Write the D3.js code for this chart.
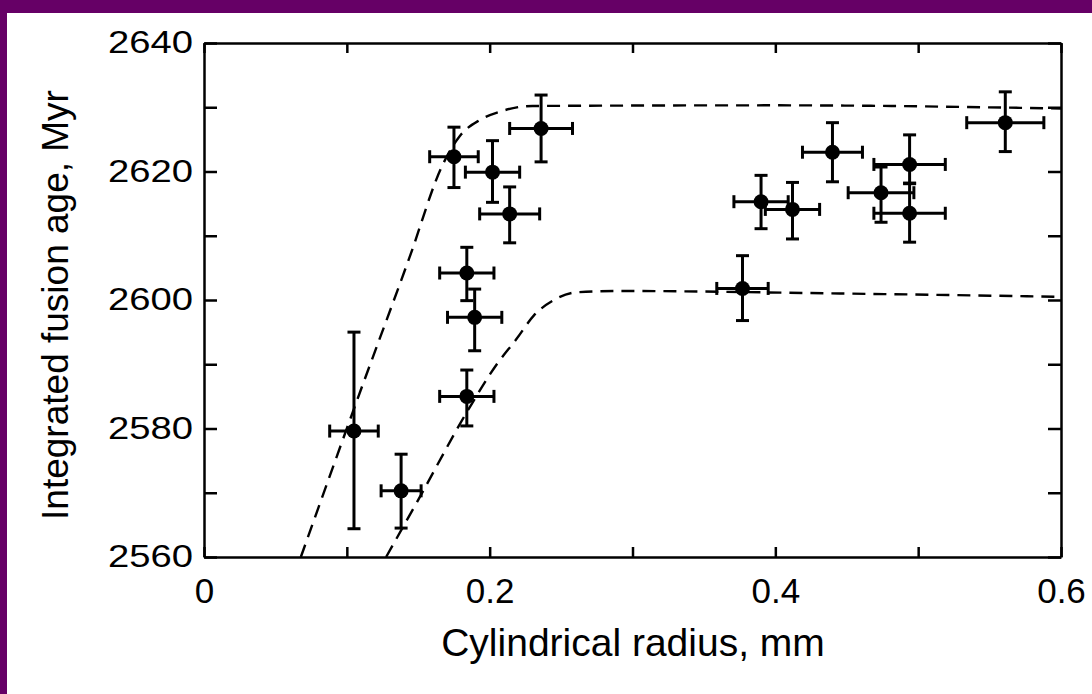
<!DOCTYPE html>
<html>
	<head>
		<meta charset="utf-8">
		<style type="text/css">
			body { margin: 0; background: #660066; }
			text { font-family: "Liberation Sans", Arial, sans-serif; fill: black; }
		</style>
		<title>Integrated fusion age vs cylindrical radius</title>
	</head>
	<body>
		<div id="chart"></div>
		<script src="https://cdn.jsdelivr.net/npm/d3@7"></script>
		<script>

// data points
var radius   = [0.105, 0.138, 0.175, 0.184, 0.1895, 0.184, 0.202, 0.214, 0.236, 0.377, 0.390, 0.412, 0.440, 0.474, 0.494, 0.494, 0.561];
var age      = [2579.6, 2570.3, 2622.3, 2604.2, 2597.3, 2585.0, 2619.9, 2613.4, 2626.7, 2601.8, 2615.3, 2614.1, 2623.0, 2616.7, 2621.1, 2613.5, 2627.6];
var ageLow   = [2564.4, 2564.5, 2617.5, 2599.9, 2592.1, 2580.4, 2615.2, 2608.9, 2621.5, 2596.8, 2611.1, 2609.5, 2618.4, 2612.1, 2618.1, 2609.0, 2623.1];
var ageHigh  = [2595.0, 2576.0, 2626.9, 2608.2, 2601.7, 2589.1, 2624.8, 2617.6, 2631.9, 2606.9, 2619.4, 2618.3, 2627.6, 2620.7, 2625.7, 2618.2, 2632.4];
var radiusErr = [0.017, 0.014, 0.017, 0.019, 0.019, 0.019, 0.019, 0.021, 0.022, 0.018, 0.019, 0.019, 0.021, 0.023, 0.025, 0.025, 0.027];

// dashed model curves
var upperX = [0.0678, 0.107, 0.144, 0.167, 0.179, 0.193, 0.207, 0.230, 0.40, 0.60];
var upperY = [2560, 2584.3, 2606.7, 2621, 2625.5, 2628, 2629.3, 2630.2, 2630.3, 2629.8];
var lowerX = [0.1275, 0.149, 0.186, 0.205, 0.219, 0.231, 0.245, 0.261, 0.29, 0.45, 0.60];
var lowerY = [2560, 2568.5, 2583.3, 2590, 2594, 2597.6, 2600, 2601.2, 2601.4, 2601, 2600.5];

// axis ticks
var xTickLabels = [0, 0.2, 0.4, 0.6];
var xTicksAll = [0, 0.1, 0.2, 0.3, 0.4, 0.5, 0.6];
var yTickLabels = [2560, 2580, 2600, 2620, 2640];
var yTicksAll = [2560, 2570, 2580, 2590, 2600, 2610, 2620, 2630, 2640];

var W = 1092, H = 694;
var margin = {top: 43, right: 31, bottom: 137, left: 204},
    width = W - margin.left - margin.right,
    height = H - margin.top - margin.bottom;

var root = d3.select('#chart').append('svg')
    .attr('width', W)
    .attr('height', H)
    .style('display', 'block');

// purple frame with white page
root.append('rect').attr('width', W).attr('height', H).attr('fill', '#660066');
root.append('rect').attr('x', 7).attr('y', 13).attr('width', W - 7).attr('height', H - 13).attr('fill', 'white');

var svg = root.append('g')
    .attr('transform', `translate(${margin.left},${margin.top})`);

var x = d3.scaleLinear().domain([0, 0.6]).range([0, width]);
var y = d3.scaleLinear().domain([2560, 2640]).range([height, 0]);

// axes, ticks pointing inward
var xAxis = d3.axisBottom(x).tickValues(xTicksAll).tickSizeInner(-10).tickSizeOuter(0).tickPadding(21)
    .tickFormat(d => xTickLabels.some(v => Math.abs(v - d) < 1e-9) ? d3.format('')(d) : '');
var gx = svg.append('g').attr('transform', `translate(0,${height})`).call(xAxis);
gx.selectAll('text').style('font-size', '35px');

var yAxis = d3.axisLeft(y).tickValues(yTicksAll).tickSizeInner(-13).tickSizeOuter(0).tickPadding(11)
    .tickFormat(d => yTickLabels.indexOf(d) >= 0 ? d : '');
var gy = svg.append('g').call(yAxis);
gy.selectAll('text').style('font-size', '31px')
    .filter(function() { return this.textContent !== ''; })
    .attr('textLength', 85).attr('lengthAdjust', 'spacingAndGlyphs');

svg.append('g').call(d3.axisTop(x).tickValues(xTicksAll).tickSizeInner(-10).tickSizeOuter(0).tickFormat(''));
svg.append('g').attr('transform', `translate(${width},0)`)
    .call(d3.axisRight(y).tickValues(yTicksAll).tickSizeInner(-13).tickSizeOuter(0).tickFormat(''));

svg.selectAll('.domain').attr('stroke', 'black').attr('stroke-width', 2.5);
svg.selectAll('.tick line').attr('stroke', 'black').attr('stroke-width', 2.5);

// axis titles
svg.append('text')
    .attr('x', 633 - margin.left)
    .attr('y', 656 - margin.top)
    .attr('text-anchor', 'middle')
    .style('font-size', '39px')
    .text('Cylindrical radius, mm');

svg.append('text')
    .attr('transform', `translate(${68 - margin.left},${305 - margin.top}) rotate(-90)`)
    .attr('text-anchor', 'middle')
    .style('font-size', '37px')
    .text('Integrated fusion age, Myr');

// dashed curves
var line = d3.line()
    .x(d => x(d[0]))
    .y(d => y(d[1]))
    .curve(d3.curveMonotoneX);

[[upperX, upperY], [lowerX, lowerY]].forEach(function(c) {
    svg.append('path')
        .datum(c[0].map((v, i) => [v, c[1][i]]))
        .attr('d', line)
        .attr('fill', 'none')
        .attr('stroke', 'black')
        .attr('stroke-width', 2.4)
        .attr('stroke-dasharray', '13,8');
});

// data points with error bars
var pts = radius.map((r, i) => ({r: r, a: age[i], lo: ageLow[i], hi: ageHigh[i], e: radiusErr[i]}));
var cap = 6.5;
var g = svg.selectAll('.pt').data(pts).enter().append('g').attr('class', 'pt')
    .attr('stroke', 'black').attr('stroke-width', 3);

g.append('line').attr('x1', d => x(d.r)).attr('x2', d => x(d.r)).attr('y1', d => y(d.lo)).attr('y2', d => y(d.hi));
g.append('line').attr('x1', d => x(d.r) - cap).attr('x2', d => x(d.r) + cap).attr('y1', d => y(d.lo)).attr('y2', d => y(d.lo));
g.append('line').attr('x1', d => x(d.r) - cap).attr('x2', d => x(d.r) + cap).attr('y1', d => y(d.hi)).attr('y2', d => y(d.hi));
g.append('line').attr('x1', d => x(d.r - d.e)).attr('x2', d => x(d.r + d.e)).attr('y1', d => y(d.a)).attr('y2', d => y(d.a));
g.append('line').attr('x1', d => x(d.r - d.e)).attr('x2', d => x(d.r - d.e)).attr('y1', d => y(d.a) - cap).attr('y2', d => y(d.a) + cap);
g.append('line').attr('x1', d => x(d.r + d.e)).attr('x2', d => x(d.r + d.e)).attr('y1', d => y(d.a) - cap).attr('y2', d => y(d.a) + cap);
g.append('circle').attr('cx', d => x(d.r)).attr('cy', d => y(d.a)).attr('r', 7.5).attr('fill', 'black').attr('stroke', 'none');

		</script>
	</body>
</html>
